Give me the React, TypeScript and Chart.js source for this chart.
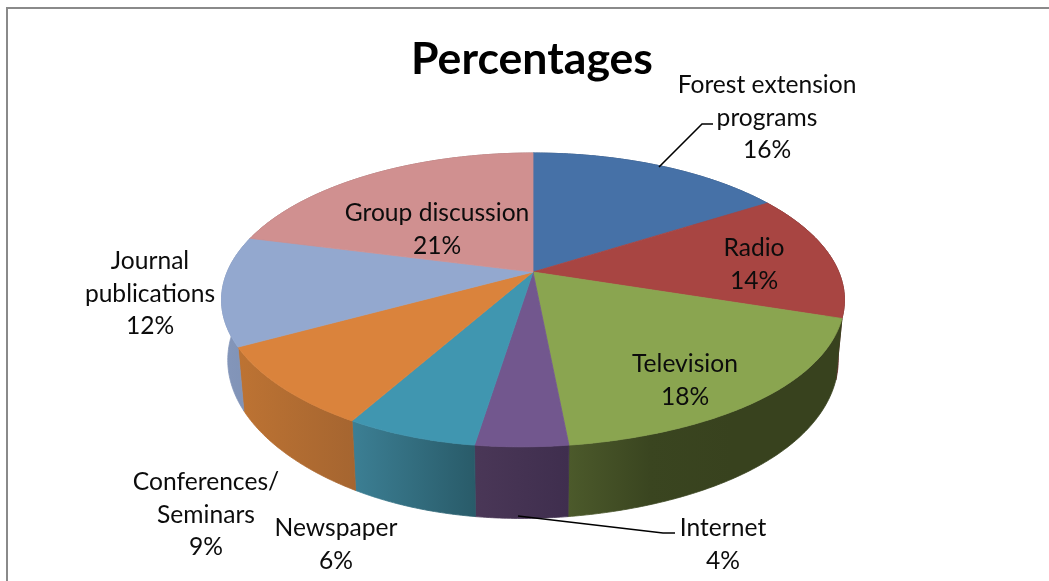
import { useEffect, useRef } from "react";
import { Chart, registerables } from "chart.js";

Chart.register(...registerables);

const titleText = "Percentages";
const categories = [
  ["Forest extension", "programs"],
  ["Radio"],
  ["Television"],
  ["Internet"],
  ["Newspaper"],
  ["Conferences/", "Seminars"],
  ["Journal", "publications"],
  ["Group discussion"],
];
const shares = [16, 14, 18, 4, 6, 9, 12, 21];
const faceColors = ["#4671A7", "#A84542", "#8AA550", "#72578E", "#4096B0", "#DA833C", "#93A8CF", "#D09090"];
// Left-to-right shading of each slice's outer wall.
const wallShades = [
  ["#2F4B70", "#2F4B70"],
  ["#5E2422", "#5E2422"],
  ["#4C5A2B", "#3A4520", "#38421E", "#38421E"],
  ["#4A3757", "#3F2E4E"],
  ["#3C7F94", "#295B69"],
  ["#BD7333", "#A56530"],
  ["#8496BA", "#7F92B6"],
  ["#9A6A6A", "#9A6A6A"],
];

// Centre of each label block, and the two leader lines.
const labelCentres = [
  [767, 85], [754, 248], [685, 364], [723, 528],
  [336, 528], [206, 482], [150, 261], [437, 213],
];
const leaders = [
  [[659, 167], [702, 124], [713, 124]],
  [[518, 516], [663, 533], [675, 533]],
];

// Perspective disc: a circle seen from the front, nearer edge larger,
// with the nearest part of the rim leaning slightly to the left.
const disc = { cx: 533, cy: 272, a: 305.8, b: 141.6, k: 0.19, depth: 58, shrink: 0.98, lean: 12 };

function rimPoint(theta: number, lower: boolean): [number, number] {
  const u = Math.sin(theta);
  const v = -Math.cos(theta);
  const den = 1 - disc.k * v;
  const lean = v > 0 ? disc.lean * Math.pow(v, 8) : 0;
  const x = disc.cx + ((lower ? disc.shrink : 1) * disc.a * u) / den - lean;
  const y = disc.cy + (disc.b * v + (lower ? disc.depth : 0)) / den;
  return [x, y];
}

function sampleAngles(start: number, end: number): number[] {
  const n = Math.max(2, Math.ceil((end - start) / 0.01));
  const out: number[] = [];
  for (let i = 0; i <= n; i++) out.push(start + ((end - start) * i) / n);
  return out;
}

const tiltedPie = {
  id: "tiltedPie",
  beforeDraw(chart: any) {
    const ctx = chart.ctx;
    ctx.save();
    ctx.fillStyle = "#8A8A8A";
    ctx.fillRect(6, 7, 2, chart.height - 7);
    ctx.fillRect(6, 7, chart.width - 6, 2);
    ctx.restore();
  },
  beforeDatasetsDraw(chart: any) {
    const ctx = chart.ctx;
    const arcs = chart.getDatasetMeta(0).data;
    const spans = arcs.map((arc: any) => {
      const p = arc.getProps(["startAngle", "endAngle"], true);
      return [p.startAngle + Math.PI / 2, p.endAngle + Math.PI / 2];
    });

    ctx.save();
    ctx.lineWidth = 0.8;
    ctx.lineJoin = "round";
    // Outer walls first, so the top face covers the part of them facing away.
    // A thin stroke in the same paint closes the seams between neighbours.
    spans.forEach(([s, e]: number[], i: number) => {
      const angles = sampleAngles(s, e);
      const upper = angles.map((t) => rimPoint(t, false));
      const lower = angles.map((t) => rimPoint(t, true)).reverse();
      const xs = upper.concat(lower).map((p) => p[0]);
      const grad = ctx.createLinearGradient(Math.min(...xs), 0, Math.max(...xs), 0);
      const stops = wallShades[i];
      const positions = stops.length === 4 ? [0, 0.3, 0.6, 1] : [0, 1];
      stops.forEach((c, j) => grad.addColorStop(positions[j], c));
      ctx.beginPath();
      upper.concat(lower).forEach((p, j) => (j ? ctx.lineTo(p[0], p[1]) : ctx.moveTo(p[0], p[1])));
      ctx.closePath();
      ctx.fillStyle = grad;
      ctx.strokeStyle = grad;
      ctx.fill();
      ctx.stroke();
    });

    // Top face.
    spans.forEach(([s, e]: number[], i: number) => {
      ctx.beginPath();
      ctx.moveTo(disc.cx, disc.cy);
      sampleAngles(s, e).forEach((t) => {
        const p = rimPoint(t, false);
        ctx.lineTo(p[0], p[1]);
      });
      ctx.closePath();
      ctx.fillStyle = arcs[i].options.backgroundColor;
      ctx.strokeStyle = arcs[i].options.backgroundColor;
      ctx.fill();
      ctx.stroke();
    });
    ctx.restore();
    return false;
  },
  afterDraw(chart: any) {
    const ctx = chart.ctx;
    ctx.save();
    ctx.strokeStyle = "#000";
    ctx.lineWidth = 1.6;
    leaders.forEach((pts) => {
      ctx.beginPath();
      pts.forEach((p, j) => (j ? ctx.lineTo(p[0], p[1]) : ctx.moveTo(p[0], p[1])));
      ctx.stroke();
    });
    ctx.fillStyle = "#0c0c0c";
    ctx.font = '24.6px Lato, "Open Sans", sans-serif';
    ctx.textAlign = "center";
    ctx.textBaseline = "middle";
    categories.forEach((lines, i) => {
      const [x, y] = labelCentres[i];
      const block = [...lines, `${shares[i]}%`];
      block.forEach((line, j) => ctx.fillText(line, x, y + j * 32.7));
    });
    ctx.restore();
  },
};

export default function App() {
  const ref = useRef<HTMLCanvasElement>(null);
  useEffect(() => {
    const chart = new Chart(ref.current!, {
      type: "pie",
      data: {
        labels: categories.map((c) => c.join(" ")),
        datasets: [{ data: shares, backgroundColor: faceColors, borderWidth: 0 }],
      },
      options: {
        responsive: false,
        animation: false,
        layout: { padding: { left: 15 } },
        plugins: {
          legend: { display: false },
          tooltip: { enabled: false },
          title: {
            display: true,
            text: titleText,
            color: "#000",
            font: { family: 'Lato, "Open Sans", sans-serif', size: 44.6, weight: "bold" },
            padding: { top: 33, bottom: 0 },
          },
        },
      },
      plugins: [tiltedPie],
    } as any);
    return () => chart.destroy();
  }, []);
  return (
    <canvas
      ref={ref}
      width={1049}
      height={581}
      style={{ position: "absolute", left: 0, top: 0, display: "block" }}
    />
  );
}
